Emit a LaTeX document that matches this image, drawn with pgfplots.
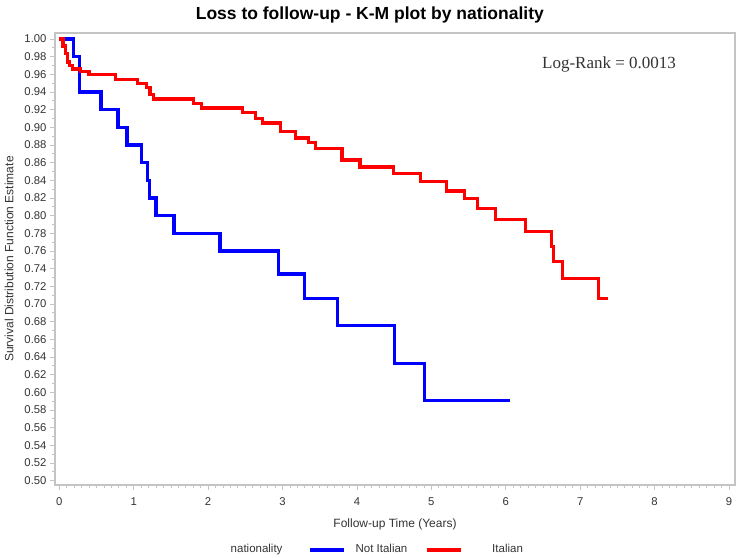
\documentclass[border=0pt]{standalone}
\usepackage{fontspec}
\setmainfont{Liberation Sans}
\newfontfamily\timesfont{Liberation Serif}
\usepackage{pgfplots}
\pgfplotsset{compat=1.18}
\definecolor{framegray}{HTML}{C4C4C4}
\definecolor{txtgray}{HTML}{333333}
\begin{document}
\begin{tikzpicture}
\path[use as bounding box] (0,0) rectangle (740bp,558bp);
\begin{axis}[
  at={(55bp,73bp)}, anchor=south west,
  scale only axis, width=680bp, height=452bp,
  xmin=-0.058, xmax=9.081, ymin=0.4951, ymax=1.0068,
  xtick={0,1,2,3,4,5,6,7,8,9},
  ytick={0.50,0.52,0.54,0.56,0.58,0.60,0.62,0.64,0.66,0.68,0.70,0.72,0.74,0.76,0.78,0.80,0.82,0.84,0.86,0.88,0.90,0.92,0.94,0.96,0.98,1.00},
  minor x tick num=9, minor y tick num=1,
  tick pos=left, tick align=outside,
  major tick length=5bp, minor tick length=3bp,
  every tick/.style={framegray, line width=0.8bp},
  axis line style={framegray, line width=1.3bp},
  /pgf/number format/assume math mode=true,
  yticklabel style={/pgf/number format/.cd, fixed, fixed zerofill, precision=2},
  tick label style={font=\fontsize{11.3bp}{13bp}\selectfont, text=txtgray},
  xticklabel style={yshift=-4bp},
  title={Loss to follow-up - K-M plot by nationality},
  every axis title/.style={font=\fontsize{17.5bp}{20bp}\selectfont\bfseries, at={(axis description cs:0.463,1.039)}, anchor=center},
  xlabel={Follow-up Time (Years)},
  xlabel style={font=\fontsize{12bp}{14bp}\selectfont, text=txtgray, at={(axis description cs:0.5,-0.0863)}, anchor=center},
  ylabel={Survival Distribution Function Estimate},
  ylabel style={font=\fontsize{12bp}{14bp}\selectfont, text=txtgray, at={(axis description cs:-0.0676,0.5)}, anchor=center, rotate=0},
  legend columns=-1,
  legend cell align=left,
  legend image code/.code={\draw[#1, line width=3.6bp] (0bp,0bp) -- (34bp,0bp);},
  legend style={at={(axis description cs:0.2584,-0.1440)}, anchor=west, draw=none, fill=none,
    inner sep=0pt, outer sep=0pt, column sep=0pt,
    font=\fontsize{11.5bp}{13bp}\selectfont, text=txtgray,
    nodes={inner sep=0pt, outer sep=0pt, text height=0.75em, text depth=0.22em}},
]
\addlegendimage{empty legend}
\addlegendentry{\makebox[77.3bp][l]{nationality}}

\addplot[const plot, draw={rgb,255:red,0;green,0;blue,255}, line width=3.2bp] coordinates {
(0,1.00) (0.19,0.98) (0.27,0.94) (0.56,0.92) (0.79,0.90) (0.91,0.88)
(1.10,0.86) (1.18,0.84) (1.21,0.82) (1.30,0.80) (1.54,0.78) (2.16,0.76)
(2.95,0.734) (3.29,0.706) (3.74,0.676) (4.51,0.633) (4.91,0.591) (6.06,0.591)
};
\addlegendentry{\makebox[80bp][l]{\hspace*{10bp}Not Italian}}

\addplot[const plot, draw={rgb,255:red,255;green,0;blue,0}, line width=3.2bp] coordinates {
(0,1.00) (0.05,0.992) (0.086,0.984) (0.11,0.974) (0.14,0.970) (0.18,0.966)
(0.28,0.963) (0.40,0.960) (0.75,0.954) (1.05,0.950) (1.17,0.945) (1.22,0.937)
(1.27,0.932) (1.80,0.927) (1.91,0.922) (2.46,0.917) (2.64,0.910) (2.73,0.905)
(2.97,0.895) (3.17,0.888) (3.35,0.883) (3.44,0.876) (3.80,0.863) (4.04,0.855)
(4.49,0.848) (4.85,0.839) (5.20,0.828) (5.45,0.819) (5.62,0.808) (5.86,0.796)
(6.27,0.782) (6.62,0.765) (6.64,0.748) (6.76,0.729) (7.25,0.706) (7.37,0.706)
};
\addlegendentry{\hspace*{29bp}Italian}

\node[font=\timesfont\fontsize{17bp}{19bp}\selectfont, text=txtgray, anchor=center] at (axis cs:7.388,0.9710) {Log-Rank = 0.0013};
\end{axis}
\end{tikzpicture}
\end{document}
